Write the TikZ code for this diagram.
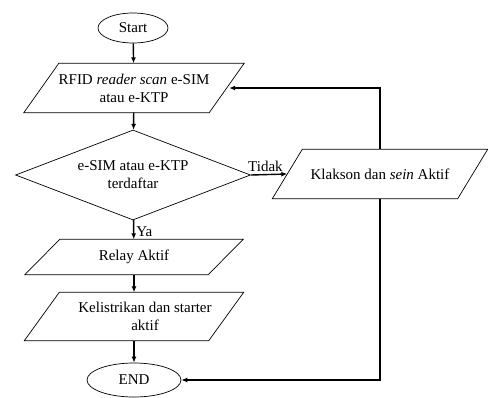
\documentclass[tikz,border=0pt]{standalone}
\usepackage{fontspec}
\setmainfont{Liberation Serif}
\usepackage{tikz}
\usetikzlibrary{arrows.meta}
\usetikzlibrary{shapes.geometric}
\usetikzlibrary{positioning}
\tikzset{terminal/.style = {draw, ellipse, line width = 0.7pt, inner sep = 1pt}}
\tikzset{iobox/.style = {rectangle, align = center, inner sep = 1pt}}
\tikzset{decision/.style = {draw, diamond, aspect = 2.6, line width = 0.7pt, align = center, inner sep = 1pt}}
\tikzset{flow/.style = {-{Latex[length=6pt, width=5pt]}, line width = 1.4pt}}
% parallelogram round a named box: #1 node, #2 slant
\newcommand{\iodraw}[2]{\draw [line width = 0.7pt] ([xshift=#2]#1.north west) -- (#1.north east)
  -- ([xshift=-#2]#1.south east) -- (#1.south west) -- cycle;}

\begin{document}
\begin{tikzpicture}[x=1pt, y=-1pt, font=\fontsize{15}{18}\selectfont]
      \useasboundingbox (0, 0) rectangle (488, 397);

      \node [terminal, minimum width = 70, minimum height = 30] (start) at (133, 28) {Start};
      \node [iobox, minimum width = 220, minimum height = 49] (scan) at (134, 88)
            {RFID \textit{reader scan} e-SIM\\atau e-KTP};
      \node [decision, minimum width = 235, minimum height = 90] (cek) at (133, 175)
            {e-SIM atau e-KTP\\terdaftar};
      \node [iobox, minimum width = 218, minimum height = 35] (relay) at (134, 257) {Relay Aktif};
      \node [iobox, minimum width = 219, minimum height = 48] (listrik) at (134, 316.5)
            {\hspace*{22pt}Kelistrikan dan starter\\\hspace*{22pt}aktif};
      \node [terminal, minimum width = 94, minimum height = 34] (end) at (134, 380) {END};
      \node [iobox, minimum width = 215, minimum height = 49] (alarm) at (380, 174)
            {Klakson dan \textit{sein} Aktif};

      \iodraw{scan}{35}
      \iodraw{relay}{35}
      \iodraw{listrik}{35}
      \iodraw{alarm}{30}

      \draw [flow] (start) -- (scan);
      \draw [flow] (scan) -- (cek);
      \draw [flow] (cek) -- node [right, pos = 0.6, inner sep = 2pt] {Ya} (relay);
      \draw [flow] (relay) -- (listrik);
      \draw [flow] (listrik) -- (end);

      \draw [flow] (cek.east) -- node [above, pos = 0.4, inner sep = 2pt] {Tidak} ([xshift=15]alarm.west);
      \draw [flow] (alarm.north) |- ([xshift=-15]scan.east); % back to the scan
      \draw [flow] (alarm.south) |- (end.east);
    \end{tikzpicture}
\end{document}
